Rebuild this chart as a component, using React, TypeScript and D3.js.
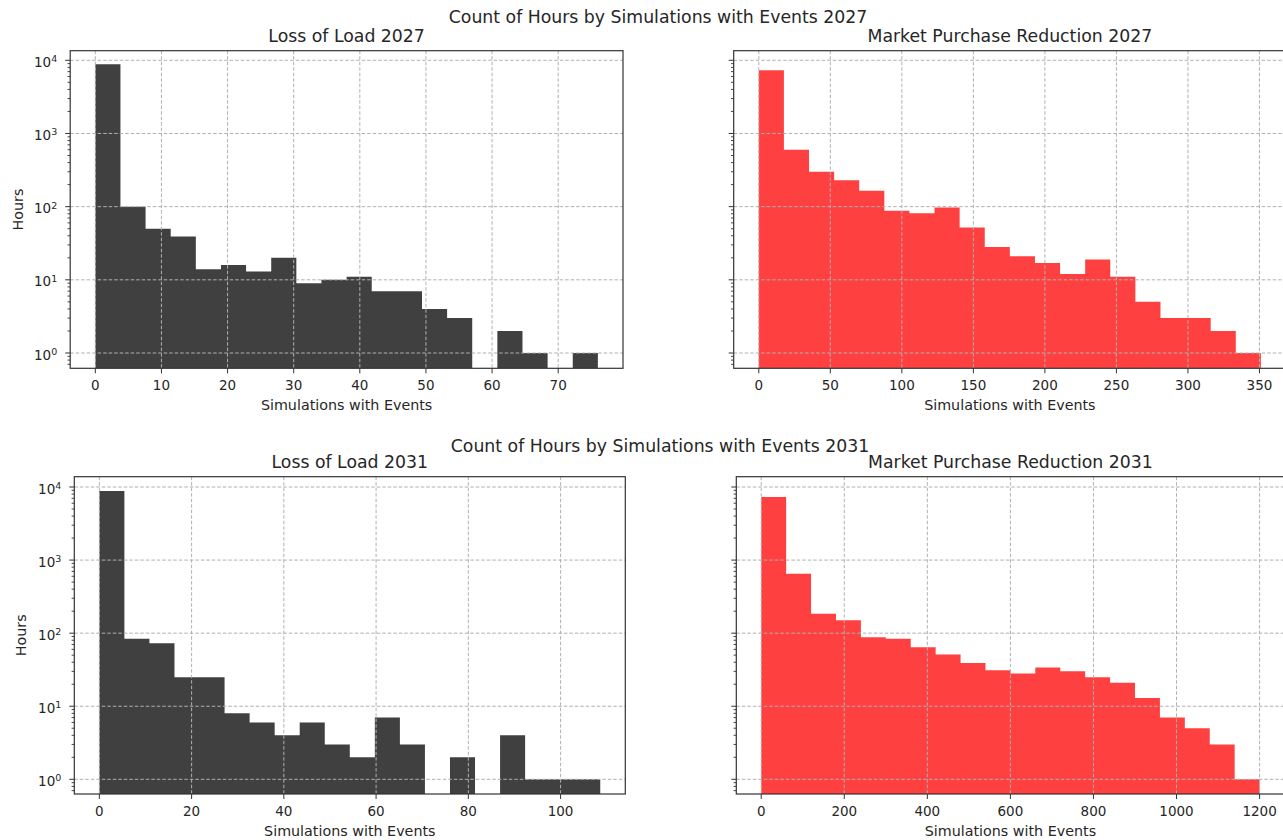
import * as d3 from "d3";
import { useEffect } from "react";

// counts per bin (20 equal-width bins each)
const lossOfLoad2027 = [8800, 100, 50, 39, 14, 16, 13, 20, 9, 10, 11, 7, 7, 4, 3, 0, 2, 1, 0, 1];
const marketReduction2027 = [7300, 600, 300, 230, 165, 88, 81, 97, 52, 28, 21, 17, 12, 19, 11, 5, 3, 3, 2, 1];
const lossOfLoad2031 = [8800, 84, 73, 25, 25, 8, 6, 4, 6, 3, 2, 7, 3, 0, 2, 0, 4, 1, 1, 1];
const marketReduction2031 = [7300, 650, 185, 150, 88, 84, 64, 51, 39, 31, 28, 34, 30, 25, 21, 13, 7, 5, 3, 1];

// range of simulations-with-events covered by the bins
const rangeLL2027 = [0, 76];
const rangeMPR2027 = [0, 351];
const rangeLL2031 = [0, 108.6];
const rangeMPR2031 = [0, 1200];

const ticksLL2027 = [0, 10, 20, 30, 40, 50, 60, 70];
const ticksMPR2027 = [0, 50, 100, 150, 200, 250, 300, 350];
const ticksLL2031 = [0, 20, 40, 60, 80, 100];
const ticksMPR2031 = [0, 200, 400, 600, 800, 1000, 1200];

const yTickExponents = [0, 1, 2, 3, 4];

const FONT = "DejaVu Sans";
const DARK = "#404040";
const RED = "#ff4040";

type PanelProps = {
  counts: number[];
  range: number[];
  xTicks: number[];
  left: number;
  top: number;
  width: number;
  height: number;
  yExtent: [number, number]; // exponents
  color: string;
  title: string;
  yLabels: boolean;
  yLabelX: number;
};

const Panel = (p: PanelProps) => {
  const [lo, hi] = p.range;
  const pad = (hi - lo) * 0.05;
  const x = d3.scaleLinear().domain([lo - pad, hi + pad]).range([p.left, p.left + p.width]);
  const y = d3
    .scaleLog()
    .domain([Math.pow(10, p.yExtent[0]), Math.pow(10, p.yExtent[1])])
    .range([p.top + p.height, p.top]);
  const bottom = p.top + p.height;
  const n = p.counts.length;
  const binW = (hi - lo) / n;

  // one path for all bars so neighbouring bins don't show seams
  let d = "";
  p.counts.forEach((c, i) => {
    if (c <= 0) return;
    const x0 = x(lo + i * binW);
    const x1 = x(lo + (i + 1) * binW);
    d += `M${x0},${bottom}V${y(c)}H${x1}V${bottom}Z`;
  });

  // minor log ticks
  const minors: number[] = [];
  for (let e = -1; e <= 4; e++) {
    for (let k = 2; k <= 9; k++) {
      const v = k * Math.pow(10, e);
      const py = y(v);
      if (py >= p.top && py <= bottom) minors.push(py);
    }
  }

  const gridStyle = { stroke: "#b0b0b0", strokeWidth: 1, strokeDasharray: "3.5,2" };

  return (
    <g fontFamily={FONT} fill="#262626">
      <defs>
        <clipPath id={`clip-${p.title.replace(/\s/g, "")}`}>
          <rect x={p.left} y={p.top} width={p.width} height={p.height} />
        </clipPath>
      </defs>
      <g clipPath={`url(#clip-${p.title.replace(/\s/g, "")})`}>
        <path d={d} fill={p.color} />
        {p.xTicks.map((t) => (
          <line key={"gx" + t} x1={x(t)} x2={x(t)} y1={p.top} y2={bottom} {...gridStyle} />
        ))}
        {yTickExponents.map((e) => (
          <line key={"gy" + e} x1={p.left} x2={p.left + p.width} y1={y(Math.pow(10, e))} y2={y(Math.pow(10, e))} {...gridStyle} />
        ))}
      </g>
      <rect x={p.left} y={p.top} width={p.width} height={p.height} fill="none" stroke="#333" strokeWidth={1.2} />

      {/* x axis */}
      {p.xTicks.map((t) => (
        <g key={"xt" + t}>
          <line x1={x(t)} x2={x(t)} y1={bottom} y2={bottom + 5} stroke="#333" strokeWidth={1} />
          <text x={x(t)} y={bottom + 21.5} textAnchor="middle" fontSize={13.5}>
            {t}
          </text>
        </g>
      ))}
      <text x={p.left + p.width / 2} y={bottom + 41.5} textAnchor="middle" fontSize={14.3}>
        Simulations with Events
      </text>

      {/* y axis */}
      {minors.map((py, i) => (
        <line key={"mn" + i} x1={p.left - 2.7} x2={p.left} y1={py} y2={py} stroke="#333" strokeWidth={0.9} />
      ))}
      {yTickExponents.map((e) => {
        const py = y(Math.pow(10, e));
        return (
          <g key={"yt" + e}>
            <line x1={p.left - 5} x2={p.left} y1={py} y2={py} stroke="#333" strokeWidth={1} />
            {p.yLabels && (
              <text x={p.left - 13} y={py + 6.5} textAnchor="end" fontSize={13.5}>
                10
                <tspan dy={-4.5} fontSize={9.5}>
                  {e}
                </tspan>
              </text>
            )}
          </g>
        );
      })}
      {p.yLabels && (
        <text
          transform={`translate(${p.yLabelX},${p.top + p.height / 2}) rotate(-90)`}
          textAnchor="middle"
          dominantBaseline="central"
          fontSize={14.3}
        >
          Hours
        </text>
      )}

      <text x={p.left + p.width / 2} y={p.top - 8.5} textAnchor="middle" fontSize={17.3}>
        {p.title}
      </text>
    </g>
  );
};

export default function App() {
  useEffect(() => {
    document.body.style.margin = "0";
  }, []);

  const topY: [number, number] = [-0.209, 4.131];
  const botY: [number, number] = [-0.201, 4.141];

  return (
    <svg width={1283} height={840} style={{ display: "block", background: "#fff" }}>
      <rect width={1283} height={840} fill="#fff" />
      <text x={658} y={23.3} textAnchor="middle" fontFamily={FONT} fontSize={17.3} fill="#262626">
        Count of Hours by Simulations with Events 2027
      </text>
      <text x={660} y={451.5} textAnchor="middle" fontFamily={FONT} fontSize={17.3} fill="#262626">
        Count of Hours by Simulations with Events 2031
      </text>

      <Panel
        counts={lossOfLoad2027}
        range={rangeLL2027}
        xTicks={ticksLL2027}
        left={70.2}
        top={50.7}
        width={552.8}
        height={317.6}
        yExtent={topY}
        color={DARK}
        title="Loss of Load 2027"
        yLabels={true}
        yLabelX={17.5}
      />
      <Panel
        counts={marketReduction2027}
        range={rangeMPR2027}
        xTicks={ticksMPR2027}
        left={733.7}
        top={50.7}
        width={552.3}
        height={317.6}
        yExtent={topY}
        color={RED}
        title="Market Purchase Reduction 2027"
        yLabels={false}
        yLabelX={0}
      />
      <Panel
        counts={lossOfLoad2031}
        range={rangeLL2031}
        xTicks={ticksLL2031}
        left={74.3}
        top={476.7}
        width={551}
        height={317.3}
        yExtent={botY}
        color={DARK}
        title="Loss of Load 2031"
        yLabels={true}
        yLabelX={21}
      />
      <Panel
        counts={marketReduction2031}
        range={rangeMPR2031}
        xTicks={ticksMPR2031}
        left={736.3}
        top={476.7}
        width={548.2}
        height={317.3}
        yExtent={botY}
        color={RED}
        title="Market Purchase Reduction 2031"
        yLabels={false}
        yLabelX={0}
      />
    </svg>
  );
}
